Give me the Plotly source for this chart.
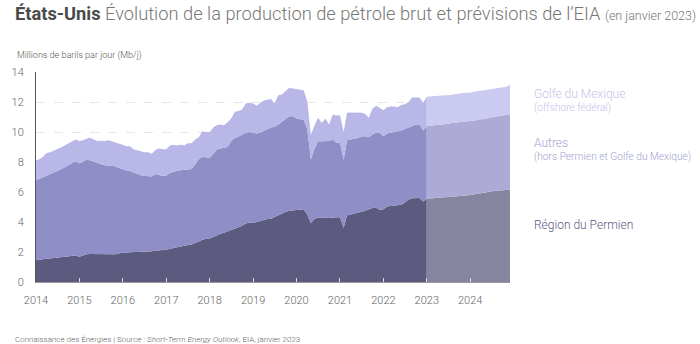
import pandas as pd
import plotly.graph_objects as go

dates = pd.date_range("2014-01-01", periods=132, freq="MS")

# Mb/j, monthly Jan 2014 - Dec 2024 (2023-2024 = EIA forecast)
permien = [
    1.47, 1.50, 1.52, 1.54, 1.55, 1.57, 1.60, 1.64, 1.66, 1.70, 1.75, 1.76,
    1.69, 1.78, 1.85, 1.87, 1.87, 1.86, 1.86, 1.88, 1.88, 1.90, 1.85, 1.92,
    1.96, 1.97, 1.98, 1.98, 1.99, 2.00, 2.02, 2.03, 2.05, 2.08, 2.10, 2.13,
    2.14, 2.20, 2.27, 2.30, 2.36, 2.42, 2.45, 2.50, 2.60, 2.72, 2.82, 2.88,
    2.90, 3.00, 3.12, 3.21, 3.28, 3.37, 3.45, 3.58, 3.68, 3.75, 3.90, 3.97,
    3.93, 4.00, 4.05, 4.15, 4.20, 4.22, 4.35, 4.45, 4.55, 4.68, 4.75, 4.78,
    4.80, 4.82, 4.85, 4.50, 3.93, 4.20, 4.30, 4.28, 4.25, 4.27, 4.30, 4.30,
    4.32, 3.60, 4.44, 4.50, 4.55, 4.60, 4.66, 4.75, 4.85, 4.93, 4.95, 4.82,
    4.85, 5.04, 5.06, 5.10, 5.12, 5.15, 5.30, 5.50, 5.58, 5.60, 5.60, 5.37,
    5.55, 5.57, 5.58, 5.60, 5.61, 5.62, 5.63, 5.64, 5.66, 5.68, 5.72, 5.76,
    5.80, 5.84, 5.90, 5.95, 6.00, 6.03, 6.06, 6.08, 6.10, 6.12, 6.14, 6.15,
]
autres = [
    5.31, 5.40, 5.48, 5.56, 5.65, 5.73, 5.80, 5.91, 5.99, 6.10, 6.17, 6.29,
    6.21, 6.27, 6.30, 6.25, 6.15, 6.09, 5.99, 5.90, 5.88, 5.88, 5.87, 5.68,
    5.54, 5.48, 5.42, 5.32, 5.19, 5.12, 5.06, 5.03, 4.99, 5.12, 5.05, 4.92,
    4.96, 5.07, 5.08, 5.12, 5.09, 5.06, 5.05, 5.04, 5.25, 5.48, 5.52, 5.42,
    5.40, 5.55, 5.71, 5.69, 5.66, 5.63, 5.95, 6.02, 6.02, 6.10, 6.05, 6.03,
    6.02, 5.90, 5.90, 5.95, 6.00, 6.08, 6.00, 6.05, 6.15, 6.22, 6.30, 6.27,
    6.10, 6.03, 5.95, 5.70, 4.23, 4.70, 5.08, 5.10, 5.13, 5.13, 5.20, 4.98,
    4.96, 4.56, 5.01, 5.00, 5.00, 5.00, 5.06, 4.97, 4.80, 4.92, 5.00, 5.13,
    4.87, 4.86, 4.89, 4.90, 4.93, 4.95, 4.90, 4.78, 4.82, 4.90, 4.90, 4.73,
    4.85, 4.85, 4.87, 4.88, 4.89, 4.90, 4.92, 4.96, 4.96, 4.97, 4.96, 4.94,
    4.92, 4.92, 4.90, 4.90, 4.90, 4.92, 4.94, 4.97, 5.00, 5.00, 5.01, 5.03,
]
golfe = [
    1.32, 1.30, 1.35, 1.50, 1.45, 1.45, 1.45, 1.40, 1.45, 1.45, 1.43, 1.45,
    1.50, 1.40, 1.40, 1.50, 1.48, 1.45, 1.57, 1.62, 1.69, 1.60, 1.58, 1.65,
    1.65, 1.60, 1.65, 1.55, 1.62, 1.58, 1.57, 1.59, 1.51, 1.60, 1.75, 1.80,
    1.75, 1.83, 1.80, 1.68, 1.70, 1.62, 1.75, 1.71, 1.65, 1.45, 1.71, 1.70,
    1.70, 1.75, 1.62, 1.60, 1.51, 1.65, 1.50, 1.75, 1.70, 1.65, 1.95, 1.95,
    1.95, 1.85, 1.95, 2.00, 1.95, 1.90, 1.55, 1.95, 1.80, 1.85, 1.90, 1.85,
    1.95, 1.95, 1.98, 1.85, 1.64, 1.55, 1.57, 1.22, 1.52, 1.10, 1.67, 1.82,
    1.84, 1.84, 1.83, 1.80, 1.75, 1.70, 1.56, 1.48, 1.30, 1.70, 1.80, 1.65,
    1.73, 1.75, 1.75, 1.70, 1.60, 1.70, 1.65, 1.72, 1.90, 1.80, 1.80, 1.85,
    1.95, 1.96, 1.95, 1.92, 1.92, 1.93, 1.90, 1.90, 1.93, 1.93, 1.92, 1.92,
    1.90, 1.92, 1.92, 1.91, 1.88, 1.87, 1.86, 1.85, 1.85, 1.86, 1.87, 1.97,
]
tick_years = list(range(2014, 2025))
tick_labels = [str(y) for y in tick_years]

split = 108  # Jan 2023: start of forecast

hist_colors = ["#5c5a7f", "#8f8ec6", "#b8b7e7"]
prev_colors = ["#85859f", "#adabd5", "#cbcaf0"]
series = [permien, autres, golfe]

fig = go.Figure()
for vals, col in zip(series, hist_colors):
    fig.add_trace(go.Scatter(x=dates[:split + 1], y=vals[:split + 1], stackgroup="hist",
                             mode="lines", line=dict(width=0), fillcolor=col,
                             hoverinfo="skip", showlegend=False))
for vals, col in zip(series, prev_colors):
    fig.add_trace(go.Scatter(x=dates[split:], y=vals[split:], stackgroup="prev",
                             mode="lines", line=dict(width=0), fillcolor=col,
                             hoverinfo="skip", showlegend=False))

W, H = 700, 344
ml, mr, mt, mb = 24, 190, 72, 62
pw, ph = W - ml - mr, H - mt - mb

def px(x):
    return (x - ml) / pw

def py(y):
    return (H - mb - y) / ph

ann = [
    dict(text="<b><span style='color:#4a4a4a'>États-Unis</span></b> Évolution de la production de pétrole brut et prévisions de l’EIA <span style='font-size:12.5px'>(en janvier 2023)</span>",
         x=px(0), y=py(13), font=dict(size=18.3, color="#777777", weight=300)),
    dict(text="Millions de barils par jour (Mb/j)", x=px(2), y=py(55),
         font=dict(size=9, color="#555555", weight=300)),
    dict(text="Golfe du Mexique", x=px(533), y=py(94), font=dict(size=12, color="#c3c2ea", weight=300)),
    dict(text="(offshore fédéral)", x=px(533), y=py(107.5), font=dict(size=10.2, color="#c3c2ea", weight=300)),
    dict(text="Autres", x=px(533), y=py(143), font=dict(size=12, color="#a3a2d0", weight=300)),
    dict(text="(hors Permien et Golfe du Mexique)", x=px(533), y=py(156.5), font=dict(size=10.2, color="#a3a2d0", weight=300)),
    dict(text="Région du Permien", x=px(533), y=py(224.5), font=dict(size=12, color="#5c5a7f", weight=300)),
    dict(text="Connaissance des Énergies | Source : <i>Short-Term Energy Outlook</i>, EIA, janvier 2023",
         x=px(0), y=py(339), font=dict(size=8, color="#666666", weight=300)),
]
for a in ann:
    a.update(xref="paper", yref="paper", xanchor="left", yanchor="middle", showarrow=False)

fig.update_layout(
    width=W, height=H,
    margin=dict(l=ml, r=mr, t=mt, b=mb),
    paper_bgcolor="white", plot_bgcolor="white",
    font=dict(family="Roboto, sans-serif", color="#666666", size=11),
    annotations=ann,
    showlegend=False,
)
fig.update_xaxes(
    range=[dates[0], dates[-1]],
    tickvals=[pd.Timestamp(f"{y}-01-01") for y in tick_years], ticktext=tick_labels,
    showgrid=False, ticks="inside", ticklen=4, tickcolor="#d8d8d8",
    showline=True, linecolor="#999999", linewidth=1,
    tickfont=dict(size=11, color="#666666", weight=300), ticklabelstandoff=8,
)
fig.update_yaxes(
    range=[0, 14], dtick=2, showgrid=True, gridcolor="#e6e6e6", griddash="dash",
    gridwidth=1, zeroline=False, showline=True, linecolor="#555555", linewidth=1,
    ticks="", tickfont=dict(size=11, color="#666666", weight=300), ticklabelstandoff=9,
)

fig.write_html("out.html")
